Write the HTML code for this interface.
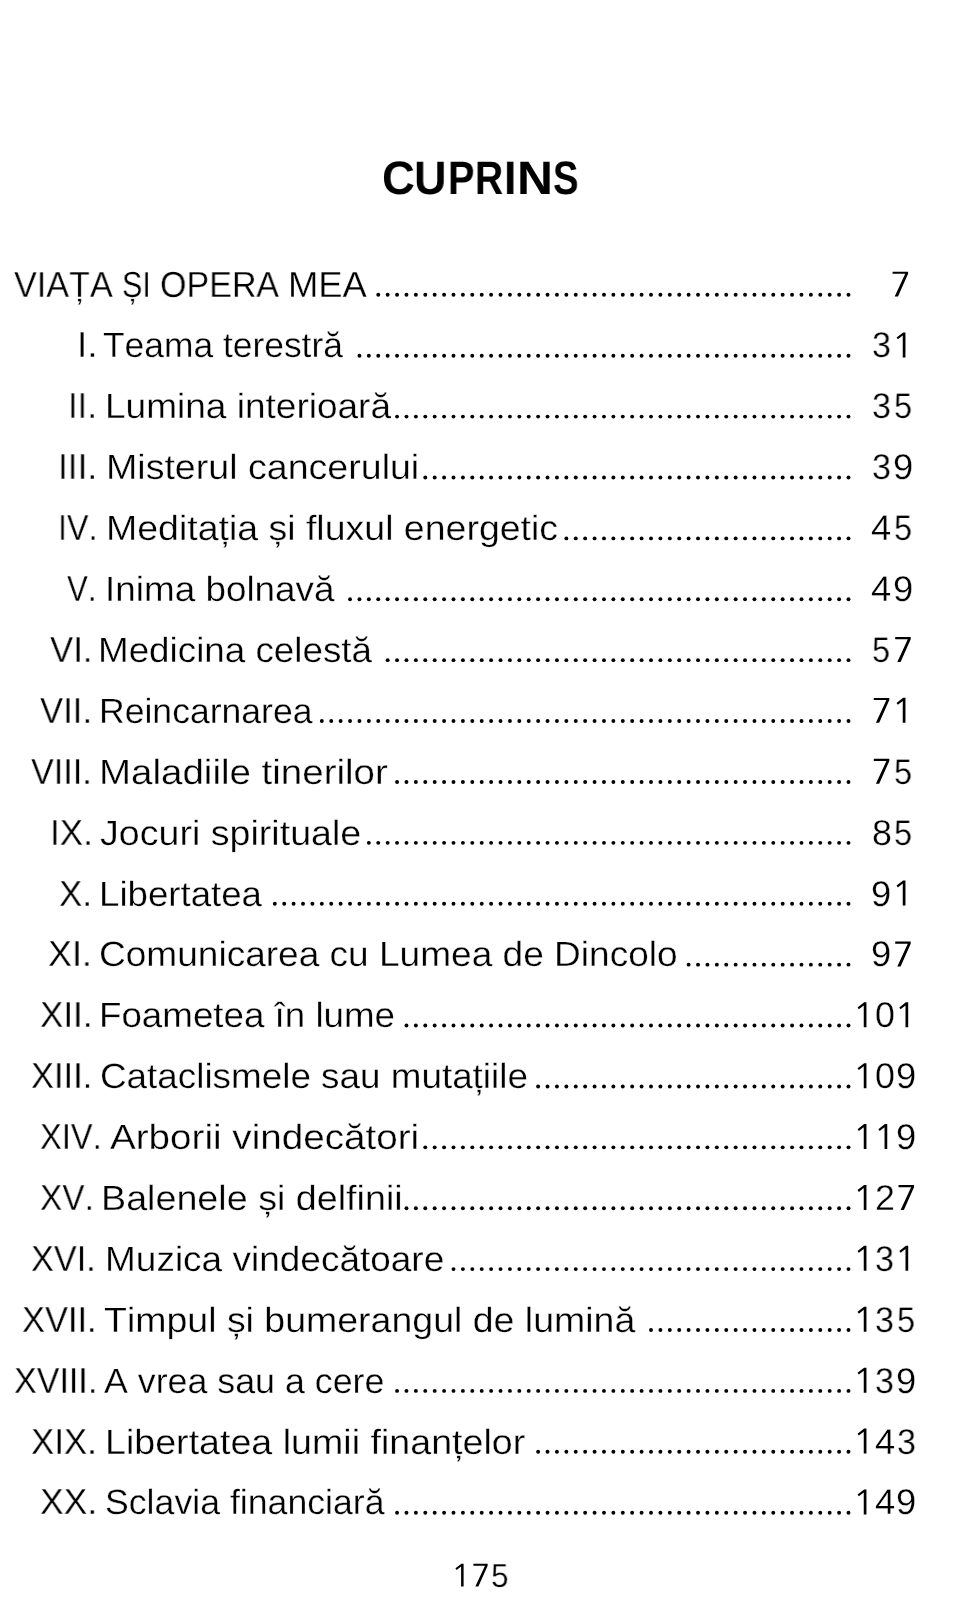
<!DOCTYPE html>
<html><head><meta charset="utf-8"><style>
html,body{margin:0;padding:0;background:#fff;}
body{width:958px;height:1600px;position:relative;overflow:hidden;font-family:"Liberation Sans",sans-serif;color:#000;font-kerning:none;}
.t{position:absolute;white-space:pre;line-height:0;transform-origin:0 0;display:block;height:0;will-change:transform;text-rendering:geometricPrecision;-webkit-text-stroke:0.3px #fff;}
.t.b{font-weight:bold;-webkit-text-stroke:0;}
svg{position:absolute;left:0;top:0;}
</style></head><body>
<svg width="958" height="1600" viewBox="0 0 958 1600" fill="#000">
<polygon points="892.60,271.65 908.10,271.65 908.10,273.85 898.00,296.55 894.70,296.55 905.20,273.85 892.60,273.85"/>
<circle cx="848.50" cy="294.80" r="1.95"/>
<circle cx="839.10" cy="294.80" r="1.95"/>
<circle cx="829.69" cy="294.80" r="1.95"/>
<circle cx="820.28" cy="294.80" r="1.95"/>
<circle cx="810.88" cy="294.80" r="1.95"/>
<circle cx="801.48" cy="294.80" r="1.95"/>
<circle cx="792.07" cy="294.80" r="1.95"/>
<circle cx="782.66" cy="294.80" r="1.95"/>
<circle cx="773.26" cy="294.80" r="1.95"/>
<circle cx="763.86" cy="294.80" r="1.95"/>
<circle cx="754.45" cy="294.80" r="1.95"/>
<circle cx="745.04" cy="294.80" r="1.95"/>
<circle cx="735.64" cy="294.80" r="1.95"/>
<circle cx="726.24" cy="294.80" r="1.95"/>
<circle cx="716.83" cy="294.80" r="1.95"/>
<circle cx="707.42" cy="294.80" r="1.95"/>
<circle cx="698.02" cy="294.80" r="1.95"/>
<circle cx="688.62" cy="294.80" r="1.95"/>
<circle cx="679.21" cy="294.80" r="1.95"/>
<circle cx="669.81" cy="294.80" r="1.95"/>
<circle cx="660.40" cy="294.80" r="1.95"/>
<circle cx="651.00" cy="294.80" r="1.95"/>
<circle cx="641.59" cy="294.80" r="1.95"/>
<circle cx="632.18" cy="294.80" r="1.95"/>
<circle cx="622.78" cy="294.80" r="1.95"/>
<circle cx="613.38" cy="294.80" r="1.95"/>
<circle cx="603.97" cy="294.80" r="1.95"/>
<circle cx="594.57" cy="294.80" r="1.95"/>
<circle cx="585.16" cy="294.80" r="1.95"/>
<circle cx="575.75" cy="294.80" r="1.95"/>
<circle cx="566.35" cy="294.80" r="1.95"/>
<circle cx="556.94" cy="294.80" r="1.95"/>
<circle cx="547.54" cy="294.80" r="1.95"/>
<circle cx="538.13" cy="294.80" r="1.95"/>
<circle cx="528.73" cy="294.80" r="1.95"/>
<circle cx="519.33" cy="294.80" r="1.95"/>
<circle cx="509.92" cy="294.80" r="1.95"/>
<circle cx="500.52" cy="294.80" r="1.95"/>
<circle cx="491.11" cy="294.80" r="1.95"/>
<circle cx="481.71" cy="294.80" r="1.95"/>
<circle cx="472.30" cy="294.80" r="1.95"/>
<circle cx="462.90" cy="294.80" r="1.95"/>
<circle cx="453.49" cy="294.80" r="1.95"/>
<circle cx="444.09" cy="294.80" r="1.95"/>
<circle cx="434.68" cy="294.80" r="1.95"/>
<circle cx="425.28" cy="294.80" r="1.95"/>
<circle cx="415.87" cy="294.80" r="1.95"/>
<circle cx="406.47" cy="294.80" r="1.95"/>
<circle cx="397.06" cy="294.80" r="1.95"/>
<circle cx="387.66" cy="294.80" r="1.95"/>
<circle cx="378.25" cy="294.80" r="1.95"/>
<polygon points="905.45,332.44 905.45,357.44 902.75,357.44 902.75,335.55 897.85,339.34 896.55,337.55 903.15,332.44"/>
<circle cx="848.50" cy="355.69" r="1.95"/>
<circle cx="839.10" cy="355.69" r="1.95"/>
<circle cx="829.69" cy="355.69" r="1.95"/>
<circle cx="820.28" cy="355.69" r="1.95"/>
<circle cx="810.88" cy="355.69" r="1.95"/>
<circle cx="801.48" cy="355.69" r="1.95"/>
<circle cx="792.07" cy="355.69" r="1.95"/>
<circle cx="782.66" cy="355.69" r="1.95"/>
<circle cx="773.26" cy="355.69" r="1.95"/>
<circle cx="763.86" cy="355.69" r="1.95"/>
<circle cx="754.45" cy="355.69" r="1.95"/>
<circle cx="745.04" cy="355.69" r="1.95"/>
<circle cx="735.64" cy="355.69" r="1.95"/>
<circle cx="726.24" cy="355.69" r="1.95"/>
<circle cx="716.83" cy="355.69" r="1.95"/>
<circle cx="707.42" cy="355.69" r="1.95"/>
<circle cx="698.02" cy="355.69" r="1.95"/>
<circle cx="688.62" cy="355.69" r="1.95"/>
<circle cx="679.21" cy="355.69" r="1.95"/>
<circle cx="669.81" cy="355.69" r="1.95"/>
<circle cx="660.40" cy="355.69" r="1.95"/>
<circle cx="651.00" cy="355.69" r="1.95"/>
<circle cx="641.59" cy="355.69" r="1.95"/>
<circle cx="632.18" cy="355.69" r="1.95"/>
<circle cx="622.78" cy="355.69" r="1.95"/>
<circle cx="613.38" cy="355.69" r="1.95"/>
<circle cx="603.97" cy="355.69" r="1.95"/>
<circle cx="594.57" cy="355.69" r="1.95"/>
<circle cx="585.16" cy="355.69" r="1.95"/>
<circle cx="575.75" cy="355.69" r="1.95"/>
<circle cx="566.35" cy="355.69" r="1.95"/>
<circle cx="556.94" cy="355.69" r="1.95"/>
<circle cx="547.54" cy="355.69" r="1.95"/>
<circle cx="538.13" cy="355.69" r="1.95"/>
<circle cx="528.73" cy="355.69" r="1.95"/>
<circle cx="519.33" cy="355.69" r="1.95"/>
<circle cx="509.92" cy="355.69" r="1.95"/>
<circle cx="500.52" cy="355.69" r="1.95"/>
<circle cx="491.11" cy="355.69" r="1.95"/>
<circle cx="481.71" cy="355.69" r="1.95"/>
<circle cx="472.30" cy="355.69" r="1.95"/>
<circle cx="462.90" cy="355.69" r="1.95"/>
<circle cx="453.49" cy="355.69" r="1.95"/>
<circle cx="444.09" cy="355.69" r="1.95"/>
<circle cx="434.68" cy="355.69" r="1.95"/>
<circle cx="425.28" cy="355.69" r="1.95"/>
<circle cx="415.87" cy="355.69" r="1.95"/>
<circle cx="406.47" cy="355.69" r="1.95"/>
<circle cx="397.06" cy="355.69" r="1.95"/>
<circle cx="387.66" cy="355.69" r="1.95"/>
<circle cx="378.25" cy="355.69" r="1.95"/>
<circle cx="368.85" cy="355.69" r="1.95"/>
<circle cx="359.44" cy="355.69" r="1.95"/>
<circle cx="848.50" cy="416.59" r="1.95"/>
<circle cx="839.10" cy="416.59" r="1.95"/>
<circle cx="829.69" cy="416.59" r="1.95"/>
<circle cx="820.28" cy="416.59" r="1.95"/>
<circle cx="810.88" cy="416.59" r="1.95"/>
<circle cx="801.48" cy="416.59" r="1.95"/>
<circle cx="792.07" cy="416.59" r="1.95"/>
<circle cx="782.66" cy="416.59" r="1.95"/>
<circle cx="773.26" cy="416.59" r="1.95"/>
<circle cx="763.86" cy="416.59" r="1.95"/>
<circle cx="754.45" cy="416.59" r="1.95"/>
<circle cx="745.04" cy="416.59" r="1.95"/>
<circle cx="735.64" cy="416.59" r="1.95"/>
<circle cx="726.24" cy="416.59" r="1.95"/>
<circle cx="716.83" cy="416.59" r="1.95"/>
<circle cx="707.42" cy="416.59" r="1.95"/>
<circle cx="698.02" cy="416.59" r="1.95"/>
<circle cx="688.62" cy="416.59" r="1.95"/>
<circle cx="679.21" cy="416.59" r="1.95"/>
<circle cx="669.81" cy="416.59" r="1.95"/>
<circle cx="660.40" cy="416.59" r="1.95"/>
<circle cx="651.00" cy="416.59" r="1.95"/>
<circle cx="641.59" cy="416.59" r="1.95"/>
<circle cx="632.18" cy="416.59" r="1.95"/>
<circle cx="622.78" cy="416.59" r="1.95"/>
<circle cx="613.38" cy="416.59" r="1.95"/>
<circle cx="603.97" cy="416.59" r="1.95"/>
<circle cx="594.57" cy="416.59" r="1.95"/>
<circle cx="585.16" cy="416.59" r="1.95"/>
<circle cx="575.75" cy="416.59" r="1.95"/>
<circle cx="566.35" cy="416.59" r="1.95"/>
<circle cx="556.94" cy="416.59" r="1.95"/>
<circle cx="547.54" cy="416.59" r="1.95"/>
<circle cx="538.13" cy="416.59" r="1.95"/>
<circle cx="528.73" cy="416.59" r="1.95"/>
<circle cx="519.33" cy="416.59" r="1.95"/>
<circle cx="509.92" cy="416.59" r="1.95"/>
<circle cx="500.52" cy="416.59" r="1.95"/>
<circle cx="491.11" cy="416.59" r="1.95"/>
<circle cx="481.71" cy="416.59" r="1.95"/>
<circle cx="472.30" cy="416.59" r="1.95"/>
<circle cx="462.90" cy="416.59" r="1.95"/>
<circle cx="453.49" cy="416.59" r="1.95"/>
<circle cx="444.09" cy="416.59" r="1.95"/>
<circle cx="434.68" cy="416.59" r="1.95"/>
<circle cx="425.28" cy="416.59" r="1.95"/>
<circle cx="415.87" cy="416.59" r="1.95"/>
<circle cx="406.47" cy="416.59" r="1.95"/>
<circle cx="397.06" cy="416.59" r="1.95"/>
<circle cx="848.50" cy="477.49" r="1.95"/>
<circle cx="839.10" cy="477.49" r="1.95"/>
<circle cx="829.69" cy="477.49" r="1.95"/>
<circle cx="820.28" cy="477.49" r="1.95"/>
<circle cx="810.88" cy="477.49" r="1.95"/>
<circle cx="801.48" cy="477.49" r="1.95"/>
<circle cx="792.07" cy="477.49" r="1.95"/>
<circle cx="782.66" cy="477.49" r="1.95"/>
<circle cx="773.26" cy="477.49" r="1.95"/>
<circle cx="763.86" cy="477.49" r="1.95"/>
<circle cx="754.45" cy="477.49" r="1.95"/>
<circle cx="745.04" cy="477.49" r="1.95"/>
<circle cx="735.64" cy="477.49" r="1.95"/>
<circle cx="726.24" cy="477.49" r="1.95"/>
<circle cx="716.83" cy="477.49" r="1.95"/>
<circle cx="707.42" cy="477.49" r="1.95"/>
<circle cx="698.02" cy="477.49" r="1.95"/>
<circle cx="688.62" cy="477.49" r="1.95"/>
<circle cx="679.21" cy="477.49" r="1.95"/>
<circle cx="669.81" cy="477.49" r="1.95"/>
<circle cx="660.40" cy="477.49" r="1.95"/>
<circle cx="651.00" cy="477.49" r="1.95"/>
<circle cx="641.59" cy="477.49" r="1.95"/>
<circle cx="632.18" cy="477.49" r="1.95"/>
<circle cx="622.78" cy="477.49" r="1.95"/>
<circle cx="613.38" cy="477.49" r="1.95"/>
<circle cx="603.97" cy="477.49" r="1.95"/>
<circle cx="594.57" cy="477.49" r="1.95"/>
<circle cx="585.16" cy="477.49" r="1.95"/>
<circle cx="575.75" cy="477.49" r="1.95"/>
<circle cx="566.35" cy="477.49" r="1.95"/>
<circle cx="556.94" cy="477.49" r="1.95"/>
<circle cx="547.54" cy="477.49" r="1.95"/>
<circle cx="538.13" cy="477.49" r="1.95"/>
<circle cx="528.73" cy="477.49" r="1.95"/>
<circle cx="519.33" cy="477.49" r="1.95"/>
<circle cx="509.92" cy="477.49" r="1.95"/>
<circle cx="500.52" cy="477.49" r="1.95"/>
<circle cx="491.11" cy="477.49" r="1.95"/>
<circle cx="481.71" cy="477.49" r="1.95"/>
<circle cx="472.30" cy="477.49" r="1.95"/>
<circle cx="462.90" cy="477.49" r="1.95"/>
<circle cx="453.49" cy="477.49" r="1.95"/>
<circle cx="444.09" cy="477.49" r="1.95"/>
<circle cx="434.68" cy="477.49" r="1.95"/>
<circle cx="425.28" cy="477.49" r="1.95"/>
<circle cx="848.50" cy="538.38" r="1.95"/>
<circle cx="839.10" cy="538.38" r="1.95"/>
<circle cx="829.69" cy="538.38" r="1.95"/>
<circle cx="820.28" cy="538.38" r="1.95"/>
<circle cx="810.88" cy="538.38" r="1.95"/>
<circle cx="801.48" cy="538.38" r="1.95"/>
<circle cx="792.07" cy="538.38" r="1.95"/>
<circle cx="782.66" cy="538.38" r="1.95"/>
<circle cx="773.26" cy="538.38" r="1.95"/>
<circle cx="763.86" cy="538.38" r="1.95"/>
<circle cx="754.45" cy="538.38" r="1.95"/>
<circle cx="745.04" cy="538.38" r="1.95"/>
<circle cx="735.64" cy="538.38" r="1.95"/>
<circle cx="726.24" cy="538.38" r="1.95"/>
<circle cx="716.83" cy="538.38" r="1.95"/>
<circle cx="707.42" cy="538.38" r="1.95"/>
<circle cx="698.02" cy="538.38" r="1.95"/>
<circle cx="688.62" cy="538.38" r="1.95"/>
<circle cx="679.21" cy="538.38" r="1.95"/>
<circle cx="669.81" cy="538.38" r="1.95"/>
<circle cx="660.40" cy="538.38" r="1.95"/>
<circle cx="651.00" cy="538.38" r="1.95"/>
<circle cx="641.59" cy="538.38" r="1.95"/>
<circle cx="632.18" cy="538.38" r="1.95"/>
<circle cx="622.78" cy="538.38" r="1.95"/>
<circle cx="613.38" cy="538.38" r="1.95"/>
<circle cx="603.97" cy="538.38" r="1.95"/>
<circle cx="594.57" cy="538.38" r="1.95"/>
<circle cx="585.16" cy="538.38" r="1.95"/>
<circle cx="575.75" cy="538.38" r="1.95"/>
<circle cx="566.35" cy="538.38" r="1.95"/>
<circle cx="848.50" cy="599.28" r="1.95"/>
<circle cx="839.10" cy="599.28" r="1.95"/>
<circle cx="829.69" cy="599.28" r="1.95"/>
<circle cx="820.28" cy="599.28" r="1.95"/>
<circle cx="810.88" cy="599.28" r="1.95"/>
<circle cx="801.48" cy="599.28" r="1.95"/>
<circle cx="792.07" cy="599.28" r="1.95"/>
<circle cx="782.66" cy="599.28" r="1.95"/>
<circle cx="773.26" cy="599.28" r="1.95"/>
<circle cx="763.86" cy="599.28" r="1.95"/>
<circle cx="754.45" cy="599.28" r="1.95"/>
<circle cx="745.04" cy="599.28" r="1.95"/>
<circle cx="735.64" cy="599.28" r="1.95"/>
<circle cx="726.24" cy="599.28" r="1.95"/>
<circle cx="716.83" cy="599.28" r="1.95"/>
<circle cx="707.42" cy="599.28" r="1.95"/>
<circle cx="698.02" cy="599.28" r="1.95"/>
<circle cx="688.62" cy="599.28" r="1.95"/>
<circle cx="679.21" cy="599.28" r="1.95"/>
<circle cx="669.81" cy="599.28" r="1.95"/>
<circle cx="660.40" cy="599.28" r="1.95"/>
<circle cx="651.00" cy="599.28" r="1.95"/>
<circle cx="641.59" cy="599.28" r="1.95"/>
<circle cx="632.18" cy="599.28" r="1.95"/>
<circle cx="622.78" cy="599.28" r="1.95"/>
<circle cx="613.38" cy="599.28" r="1.95"/>
<circle cx="603.97" cy="599.28" r="1.95"/>
<circle cx="594.57" cy="599.28" r="1.95"/>
<circle cx="585.16" cy="599.28" r="1.95"/>
<circle cx="575.75" cy="599.28" r="1.95"/>
<circle cx="566.35" cy="599.28" r="1.95"/>
<circle cx="556.94" cy="599.28" r="1.95"/>
<circle cx="547.54" cy="599.28" r="1.95"/>
<circle cx="538.13" cy="599.28" r="1.95"/>
<circle cx="528.73" cy="599.28" r="1.95"/>
<circle cx="519.33" cy="599.28" r="1.95"/>
<circle cx="509.92" cy="599.28" r="1.95"/>
<circle cx="500.52" cy="599.28" r="1.95"/>
<circle cx="491.11" cy="599.28" r="1.95"/>
<circle cx="481.71" cy="599.28" r="1.95"/>
<circle cx="472.30" cy="599.28" r="1.95"/>
<circle cx="462.90" cy="599.28" r="1.95"/>
<circle cx="453.49" cy="599.28" r="1.95"/>
<circle cx="444.09" cy="599.28" r="1.95"/>
<circle cx="434.68" cy="599.28" r="1.95"/>
<circle cx="425.28" cy="599.28" r="1.95"/>
<circle cx="415.87" cy="599.28" r="1.95"/>
<circle cx="406.47" cy="599.28" r="1.95"/>
<circle cx="397.06" cy="599.28" r="1.95"/>
<circle cx="387.66" cy="599.28" r="1.95"/>
<circle cx="378.25" cy="599.28" r="1.95"/>
<circle cx="368.85" cy="599.28" r="1.95"/>
<circle cx="359.44" cy="599.28" r="1.95"/>
<circle cx="350.04" cy="599.28" r="1.95"/>
<polygon points="895.20,637.02 910.70,637.02 910.70,639.22 900.60,661.92 897.30,661.92 907.80,639.22 895.20,639.22"/>
<circle cx="848.50" cy="660.17" r="1.95"/>
<circle cx="839.10" cy="660.17" r="1.95"/>
<circle cx="829.69" cy="660.17" r="1.95"/>
<circle cx="820.28" cy="660.17" r="1.95"/>
<circle cx="810.88" cy="660.17" r="1.95"/>
<circle cx="801.48" cy="660.17" r="1.95"/>
<circle cx="792.07" cy="660.17" r="1.95"/>
<circle cx="782.66" cy="660.17" r="1.95"/>
<circle cx="773.26" cy="660.17" r="1.95"/>
<circle cx="763.86" cy="660.17" r="1.95"/>
<circle cx="754.45" cy="660.17" r="1.95"/>
<circle cx="745.04" cy="660.17" r="1.95"/>
<circle cx="735.64" cy="660.17" r="1.95"/>
<circle cx="726.24" cy="660.17" r="1.95"/>
<circle cx="716.83" cy="660.17" r="1.95"/>
<circle cx="707.42" cy="660.17" r="1.95"/>
<circle cx="698.02" cy="660.17" r="1.95"/>
<circle cx="688.62" cy="660.17" r="1.95"/>
<circle cx="679.21" cy="660.17" r="1.95"/>
<circle cx="669.81" cy="660.17" r="1.95"/>
<circle cx="660.40" cy="660.17" r="1.95"/>
<circle cx="651.00" cy="660.17" r="1.95"/>
<circle cx="641.59" cy="660.17" r="1.95"/>
<circle cx="632.18" cy="660.17" r="1.95"/>
<circle cx="622.78" cy="660.17" r="1.95"/>
<circle cx="613.38" cy="660.17" r="1.95"/>
<circle cx="603.97" cy="660.17" r="1.95"/>
<circle cx="594.57" cy="660.17" r="1.95"/>
<circle cx="585.16" cy="660.17" r="1.95"/>
<circle cx="575.75" cy="660.17" r="1.95"/>
<circle cx="566.35" cy="660.17" r="1.95"/>
<circle cx="556.94" cy="660.17" r="1.95"/>
<circle cx="547.54" cy="660.17" r="1.95"/>
<circle cx="538.13" cy="660.17" r="1.95"/>
<circle cx="528.73" cy="660.17" r="1.95"/>
<circle cx="519.33" cy="660.17" r="1.95"/>
<circle cx="509.92" cy="660.17" r="1.95"/>
<circle cx="500.52" cy="660.17" r="1.95"/>
<circle cx="491.11" cy="660.17" r="1.95"/>
<circle cx="481.71" cy="660.17" r="1.95"/>
<circle cx="472.30" cy="660.17" r="1.95"/>
<circle cx="462.90" cy="660.17" r="1.95"/>
<circle cx="453.49" cy="660.17" r="1.95"/>
<circle cx="444.09" cy="660.17" r="1.95"/>
<circle cx="434.68" cy="660.17" r="1.95"/>
<circle cx="425.28" cy="660.17" r="1.95"/>
<circle cx="415.87" cy="660.17" r="1.95"/>
<circle cx="406.47" cy="660.17" r="1.95"/>
<circle cx="397.06" cy="660.17" r="1.95"/>
<circle cx="387.66" cy="660.17" r="1.95"/>
<polygon points="873.80,697.92 889.30,697.92 889.30,700.12 879.20,722.82 875.90,722.82 886.40,700.12 873.80,700.12"/>
<polygon points="905.45,697.82 905.45,722.82 902.75,722.82 902.75,700.92 897.85,704.72 896.55,702.92 903.15,697.82"/>
<circle cx="848.50" cy="721.07" r="1.95"/>
<circle cx="839.10" cy="721.07" r="1.95"/>
<circle cx="829.69" cy="721.07" r="1.95"/>
<circle cx="820.28" cy="721.07" r="1.95"/>
<circle cx="810.88" cy="721.07" r="1.95"/>
<circle cx="801.48" cy="721.07" r="1.95"/>
<circle cx="792.07" cy="721.07" r="1.95"/>
<circle cx="782.66" cy="721.07" r="1.95"/>
<circle cx="773.26" cy="721.07" r="1.95"/>
<circle cx="763.86" cy="721.07" r="1.95"/>
<circle cx="754.45" cy="721.07" r="1.95"/>
<circle cx="745.04" cy="721.07" r="1.95"/>
<circle cx="735.64" cy="721.07" r="1.95"/>
<circle cx="726.24" cy="721.07" r="1.95"/>
<circle cx="716.83" cy="721.07" r="1.95"/>
<circle cx="707.42" cy="721.07" r="1.95"/>
<circle cx="698.02" cy="721.07" r="1.95"/>
<circle cx="688.62" cy="721.07" r="1.95"/>
<circle cx="679.21" cy="721.07" r="1.95"/>
<circle cx="669.81" cy="721.07" r="1.95"/>
<circle cx="660.40" cy="721.07" r="1.95"/>
<circle cx="651.00" cy="721.07" r="1.95"/>
<circle cx="641.59" cy="721.07" r="1.95"/>
<circle cx="632.18" cy="721.07" r="1.95"/>
<circle cx="622.78" cy="721.07" r="1.95"/>
<circle cx="613.38" cy="721.07" r="1.95"/>
<circle cx="603.97" cy="721.07" r="1.95"/>
<circle cx="594.57" cy="721.07" r="1.95"/>
<circle cx="585.16" cy="721.07" r="1.95"/>
<circle cx="575.75" cy="721.07" r="1.95"/>
<circle cx="566.35" cy="721.07" r="1.95"/>
<circle cx="556.94" cy="721.07" r="1.95"/>
<circle cx="547.54" cy="721.07" r="1.95"/>
<circle cx="538.13" cy="721.07" r="1.95"/>
<circle cx="528.73" cy="721.07" r="1.95"/>
<circle cx="519.33" cy="721.07" r="1.95"/>
<circle cx="509.92" cy="721.07" r="1.95"/>
<circle cx="500.52" cy="721.07" r="1.95"/>
<circle cx="491.11" cy="721.07" r="1.95"/>
<circle cx="481.71" cy="721.07" r="1.95"/>
<circle cx="472.30" cy="721.07" r="1.95"/>
<circle cx="462.90" cy="721.07" r="1.95"/>
<circle cx="453.49" cy="721.07" r="1.95"/>
<circle cx="444.09" cy="721.07" r="1.95"/>
<circle cx="434.68" cy="721.07" r="1.95"/>
<circle cx="425.28" cy="721.07" r="1.95"/>
<circle cx="415.87" cy="721.07" r="1.95"/>
<circle cx="406.47" cy="721.07" r="1.95"/>
<circle cx="397.06" cy="721.07" r="1.95"/>
<circle cx="387.66" cy="721.07" r="1.95"/>
<circle cx="378.25" cy="721.07" r="1.95"/>
<circle cx="368.85" cy="721.07" r="1.95"/>
<circle cx="359.44" cy="721.07" r="1.95"/>
<circle cx="350.04" cy="721.07" r="1.95"/>
<circle cx="340.63" cy="721.07" r="1.95"/>
<circle cx="331.23" cy="721.07" r="1.95"/>
<circle cx="321.82" cy="721.07" r="1.95"/>
<polygon points="873.80,758.81 889.30,758.81 889.30,761.01 879.20,783.71 875.90,783.71 886.40,761.01 873.80,761.01"/>
<circle cx="848.50" cy="781.96" r="1.95"/>
<circle cx="839.10" cy="781.96" r="1.95"/>
<circle cx="829.69" cy="781.96" r="1.95"/>
<circle cx="820.28" cy="781.96" r="1.95"/>
<circle cx="810.88" cy="781.96" r="1.95"/>
<circle cx="801.48" cy="781.96" r="1.95"/>
<circle cx="792.07" cy="781.96" r="1.95"/>
<circle cx="782.66" cy="781.96" r="1.95"/>
<circle cx="773.26" cy="781.96" r="1.95"/>
<circle cx="763.86" cy="781.96" r="1.95"/>
<circle cx="754.45" cy="781.96" r="1.95"/>
<circle cx="745.04" cy="781.96" r="1.95"/>
<circle cx="735.64" cy="781.96" r="1.95"/>
<circle cx="726.24" cy="781.96" r="1.95"/>
<circle cx="716.83" cy="781.96" r="1.95"/>
<circle cx="707.42" cy="781.96" r="1.95"/>
<circle cx="698.02" cy="781.96" r="1.95"/>
<circle cx="688.62" cy="781.96" r="1.95"/>
<circle cx="679.21" cy="781.96" r="1.95"/>
<circle cx="669.81" cy="781.96" r="1.95"/>
<circle cx="660.40" cy="781.96" r="1.95"/>
<circle cx="651.00" cy="781.96" r="1.95"/>
<circle cx="641.59" cy="781.96" r="1.95"/>
<circle cx="632.18" cy="781.96" r="1.95"/>
<circle cx="622.78" cy="781.96" r="1.95"/>
<circle cx="613.38" cy="781.96" r="1.95"/>
<circle cx="603.97" cy="781.96" r="1.95"/>
<circle cx="594.57" cy="781.96" r="1.95"/>
<circle cx="585.16" cy="781.96" r="1.95"/>
<circle cx="575.75" cy="781.96" r="1.95"/>
<circle cx="566.35" cy="781.96" r="1.95"/>
<circle cx="556.94" cy="781.96" r="1.95"/>
<circle cx="547.54" cy="781.96" r="1.95"/>
<circle cx="538.13" cy="781.96" r="1.95"/>
<circle cx="528.73" cy="781.96" r="1.95"/>
<circle cx="519.33" cy="781.96" r="1.95"/>
<circle cx="509.92" cy="781.96" r="1.95"/>
<circle cx="500.52" cy="781.96" r="1.95"/>
<circle cx="491.11" cy="781.96" r="1.95"/>
<circle cx="481.71" cy="781.96" r="1.95"/>
<circle cx="472.30" cy="781.96" r="1.95"/>
<circle cx="462.90" cy="781.96" r="1.95"/>
<circle cx="453.49" cy="781.96" r="1.95"/>
<circle cx="444.09" cy="781.96" r="1.95"/>
<circle cx="434.68" cy="781.96" r="1.95"/>
<circle cx="425.28" cy="781.96" r="1.95"/>
<circle cx="415.87" cy="781.96" r="1.95"/>
<circle cx="406.47" cy="781.96" r="1.95"/>
<circle cx="397.06" cy="781.96" r="1.95"/>
<circle cx="848.50" cy="842.86" r="1.95"/>
<circle cx="839.10" cy="842.86" r="1.95"/>
<circle cx="829.69" cy="842.86" r="1.95"/>
<circle cx="820.28" cy="842.86" r="1.95"/>
<circle cx="810.88" cy="842.86" r="1.95"/>
<circle cx="801.48" cy="842.86" r="1.95"/>
<circle cx="792.07" cy="842.86" r="1.95"/>
<circle cx="782.66" cy="842.86" r="1.95"/>
<circle cx="773.26" cy="842.86" r="1.95"/>
<circle cx="763.86" cy="842.86" r="1.95"/>
<circle cx="754.45" cy="842.86" r="1.95"/>
<circle cx="745.04" cy="842.86" r="1.95"/>
<circle cx="735.64" cy="842.86" r="1.95"/>
<circle cx="726.24" cy="842.86" r="1.95"/>
<circle cx="716.83" cy="842.86" r="1.95"/>
<circle cx="707.42" cy="842.86" r="1.95"/>
<circle cx="698.02" cy="842.86" r="1.95"/>
<circle cx="688.62" cy="842.86" r="1.95"/>
<circle cx="679.21" cy="842.86" r="1.95"/>
<circle cx="669.81" cy="842.86" r="1.95"/>
<circle cx="660.40" cy="842.86" r="1.95"/>
<circle cx="651.00" cy="842.86" r="1.95"/>
<circle cx="641.59" cy="842.86" r="1.95"/>
<circle cx="632.18" cy="842.86" r="1.95"/>
<circle cx="622.78" cy="842.86" r="1.95"/>
<circle cx="613.38" cy="842.86" r="1.95"/>
<circle cx="603.97" cy="842.86" r="1.95"/>
<circle cx="594.57" cy="842.86" r="1.95"/>
<circle cx="585.16" cy="842.86" r="1.95"/>
<circle cx="575.75" cy="842.86" r="1.95"/>
<circle cx="566.35" cy="842.86" r="1.95"/>
<circle cx="556.94" cy="842.86" r="1.95"/>
<circle cx="547.54" cy="842.86" r="1.95"/>
<circle cx="538.13" cy="842.86" r="1.95"/>
<circle cx="528.73" cy="842.86" r="1.95"/>
<circle cx="519.33" cy="842.86" r="1.95"/>
<circle cx="509.92" cy="842.86" r="1.95"/>
<circle cx="500.52" cy="842.86" r="1.95"/>
<circle cx="491.11" cy="842.86" r="1.95"/>
<circle cx="481.71" cy="842.86" r="1.95"/>
<circle cx="472.30" cy="842.86" r="1.95"/>
<circle cx="462.90" cy="842.86" r="1.95"/>
<circle cx="453.49" cy="842.86" r="1.95"/>
<circle cx="444.09" cy="842.86" r="1.95"/>
<circle cx="434.68" cy="842.86" r="1.95"/>
<circle cx="425.28" cy="842.86" r="1.95"/>
<circle cx="415.87" cy="842.86" r="1.95"/>
<circle cx="406.47" cy="842.86" r="1.95"/>
<circle cx="397.06" cy="842.86" r="1.95"/>
<circle cx="387.66" cy="842.86" r="1.95"/>
<circle cx="378.25" cy="842.86" r="1.95"/>
<circle cx="368.85" cy="842.86" r="1.95"/>
<polygon points="905.45,880.50 905.45,905.50 902.75,905.50 902.75,883.60 897.85,887.40 896.55,885.60 903.15,880.50"/>
<circle cx="848.50" cy="903.75" r="1.95"/>
<circle cx="839.10" cy="903.75" r="1.95"/>
<circle cx="829.69" cy="903.75" r="1.95"/>
<circle cx="820.28" cy="903.75" r="1.95"/>
<circle cx="810.88" cy="903.75" r="1.95"/>
<circle cx="801.48" cy="903.75" r="1.95"/>
<circle cx="792.07" cy="903.75" r="1.95"/>
<circle cx="782.66" cy="903.75" r="1.95"/>
<circle cx="773.26" cy="903.75" r="1.95"/>
<circle cx="763.86" cy="903.75" r="1.95"/>
<circle cx="754.45" cy="903.75" r="1.95"/>
<circle cx="745.04" cy="903.75" r="1.95"/>
<circle cx="735.64" cy="903.75" r="1.95"/>
<circle cx="726.24" cy="903.75" r="1.95"/>
<circle cx="716.83" cy="903.75" r="1.95"/>
<circle cx="707.42" cy="903.75" r="1.95"/>
<circle cx="698.02" cy="903.75" r="1.95"/>
<circle cx="688.62" cy="903.75" r="1.95"/>
<circle cx="679.21" cy="903.75" r="1.95"/>
<circle cx="669.81" cy="903.75" r="1.95"/>
<circle cx="660.40" cy="903.75" r="1.95"/>
<circle cx="651.00" cy="903.75" r="1.95"/>
<circle cx="641.59" cy="903.75" r="1.95"/>
<circle cx="632.18" cy="903.75" r="1.95"/>
<circle cx="622.78" cy="903.75" r="1.95"/>
<circle cx="613.38" cy="903.75" r="1.95"/>
<circle cx="603.97" cy="903.75" r="1.95"/>
<circle cx="594.57" cy="903.75" r="1.95"/>
<circle cx="585.16" cy="903.75" r="1.95"/>
<circle cx="575.75" cy="903.75" r="1.95"/>
<circle cx="566.35" cy="903.75" r="1.95"/>
<circle cx="556.94" cy="903.75" r="1.95"/>
<circle cx="547.54" cy="903.75" r="1.95"/>
<circle cx="538.13" cy="903.75" r="1.95"/>
<circle cx="528.73" cy="903.75" r="1.95"/>
<circle cx="519.33" cy="903.75" r="1.95"/>
<circle cx="509.92" cy="903.75" r="1.95"/>
<circle cx="500.52" cy="903.75" r="1.95"/>
<circle cx="491.11" cy="903.75" r="1.95"/>
<circle cx="481.71" cy="903.75" r="1.95"/>
<circle cx="472.30" cy="903.75" r="1.95"/>
<circle cx="462.90" cy="903.75" r="1.95"/>
<circle cx="453.49" cy="903.75" r="1.95"/>
<circle cx="444.09" cy="903.75" r="1.95"/>
<circle cx="434.68" cy="903.75" r="1.95"/>
<circle cx="425.28" cy="903.75" r="1.95"/>
<circle cx="415.87" cy="903.75" r="1.95"/>
<circle cx="406.47" cy="903.75" r="1.95"/>
<circle cx="397.06" cy="903.75" r="1.95"/>
<circle cx="387.66" cy="903.75" r="1.95"/>
<circle cx="378.25" cy="903.75" r="1.95"/>
<circle cx="368.85" cy="903.75" r="1.95"/>
<circle cx="359.44" cy="903.75" r="1.95"/>
<circle cx="350.04" cy="903.75" r="1.95"/>
<circle cx="340.63" cy="903.75" r="1.95"/>
<circle cx="331.23" cy="903.75" r="1.95"/>
<circle cx="321.82" cy="903.75" r="1.95"/>
<circle cx="312.42" cy="903.75" r="1.95"/>
<circle cx="303.01" cy="903.75" r="1.95"/>
<circle cx="293.61" cy="903.75" r="1.95"/>
<circle cx="284.20" cy="903.75" r="1.95"/>
<circle cx="274.80" cy="903.75" r="1.95"/>
<polygon points="895.20,941.50 910.70,941.50 910.70,943.70 900.60,966.39 897.30,966.39 907.80,943.70 895.20,943.70"/>
<circle cx="848.50" cy="964.64" r="1.95"/>
<circle cx="839.10" cy="964.64" r="1.95"/>
<circle cx="829.69" cy="964.64" r="1.95"/>
<circle cx="820.28" cy="964.64" r="1.95"/>
<circle cx="810.88" cy="964.64" r="1.95"/>
<circle cx="801.48" cy="964.64" r="1.95"/>
<circle cx="792.07" cy="964.64" r="1.95"/>
<circle cx="782.66" cy="964.64" r="1.95"/>
<circle cx="773.26" cy="964.64" r="1.95"/>
<circle cx="763.86" cy="964.64" r="1.95"/>
<circle cx="754.45" cy="964.64" r="1.95"/>
<circle cx="745.04" cy="964.64" r="1.95"/>
<circle cx="735.64" cy="964.64" r="1.95"/>
<circle cx="726.24" cy="964.64" r="1.95"/>
<circle cx="716.83" cy="964.64" r="1.95"/>
<circle cx="707.42" cy="964.64" r="1.95"/>
<circle cx="698.02" cy="964.64" r="1.95"/>
<circle cx="688.62" cy="964.64" r="1.95"/>
<polygon points="866.45,1002.29 866.45,1027.29 863.75,1027.29 863.75,1005.39 858.85,1009.19 857.55,1007.39 864.15,1002.29"/>
<polygon points="908.20,1002.29 908.20,1027.29 905.50,1027.29 905.50,1005.39 900.60,1009.19 899.30,1007.39 905.90,1002.29"/>
<circle cx="848.50" cy="1025.54" r="1.95"/>
<circle cx="839.10" cy="1025.54" r="1.95"/>
<circle cx="829.69" cy="1025.54" r="1.95"/>
<circle cx="820.28" cy="1025.54" r="1.95"/>
<circle cx="810.88" cy="1025.54" r="1.95"/>
<circle cx="801.48" cy="1025.54" r="1.95"/>
<circle cx="792.07" cy="1025.54" r="1.95"/>
<circle cx="782.66" cy="1025.54" r="1.95"/>
<circle cx="773.26" cy="1025.54" r="1.95"/>
<circle cx="763.86" cy="1025.54" r="1.95"/>
<circle cx="754.45" cy="1025.54" r="1.95"/>
<circle cx="745.04" cy="1025.54" r="1.95"/>
<circle cx="735.64" cy="1025.54" r="1.95"/>
<circle cx="726.24" cy="1025.54" r="1.95"/>
<circle cx="716.83" cy="1025.54" r="1.95"/>
<circle cx="707.42" cy="1025.54" r="1.95"/>
<circle cx="698.02" cy="1025.54" r="1.95"/>
<circle cx="688.62" cy="1025.54" r="1.95"/>
<circle cx="679.21" cy="1025.54" r="1.95"/>
<circle cx="669.81" cy="1025.54" r="1.95"/>
<circle cx="660.40" cy="1025.54" r="1.95"/>
<circle cx="651.00" cy="1025.54" r="1.95"/>
<circle cx="641.59" cy="1025.54" r="1.95"/>
<circle cx="632.18" cy="1025.54" r="1.95"/>
<circle cx="622.78" cy="1025.54" r="1.95"/>
<circle cx="613.38" cy="1025.54" r="1.95"/>
<circle cx="603.97" cy="1025.54" r="1.95"/>
<circle cx="594.57" cy="1025.54" r="1.95"/>
<circle cx="585.16" cy="1025.54" r="1.95"/>
<circle cx="575.75" cy="1025.54" r="1.95"/>
<circle cx="566.35" cy="1025.54" r="1.95"/>
<circle cx="556.94" cy="1025.54" r="1.95"/>
<circle cx="547.54" cy="1025.54" r="1.95"/>
<circle cx="538.13" cy="1025.54" r="1.95"/>
<circle cx="528.73" cy="1025.54" r="1.95"/>
<circle cx="519.33" cy="1025.54" r="1.95"/>
<circle cx="509.92" cy="1025.54" r="1.95"/>
<circle cx="500.52" cy="1025.54" r="1.95"/>
<circle cx="491.11" cy="1025.54" r="1.95"/>
<circle cx="481.71" cy="1025.54" r="1.95"/>
<circle cx="472.30" cy="1025.54" r="1.95"/>
<circle cx="462.90" cy="1025.54" r="1.95"/>
<circle cx="453.49" cy="1025.54" r="1.95"/>
<circle cx="444.09" cy="1025.54" r="1.95"/>
<circle cx="434.68" cy="1025.54" r="1.95"/>
<circle cx="425.28" cy="1025.54" r="1.95"/>
<circle cx="415.87" cy="1025.54" r="1.95"/>
<circle cx="406.47" cy="1025.54" r="1.95"/>
<polygon points="866.45,1063.18 866.45,1088.18 863.75,1088.18 863.75,1066.28 858.85,1070.09 857.55,1068.28 864.15,1063.18"/>
<circle cx="848.50" cy="1086.43" r="1.95"/>
<circle cx="839.10" cy="1086.43" r="1.95"/>
<circle cx="829.69" cy="1086.43" r="1.95"/>
<circle cx="820.28" cy="1086.43" r="1.95"/>
<circle cx="810.88" cy="1086.43" r="1.95"/>
<circle cx="801.48" cy="1086.43" r="1.95"/>
<circle cx="792.07" cy="1086.43" r="1.95"/>
<circle cx="782.66" cy="1086.43" r="1.95"/>
<circle cx="773.26" cy="1086.43" r="1.95"/>
<circle cx="763.86" cy="1086.43" r="1.95"/>
<circle cx="754.45" cy="1086.43" r="1.95"/>
<circle cx="745.04" cy="1086.43" r="1.95"/>
<circle cx="735.64" cy="1086.43" r="1.95"/>
<circle cx="726.24" cy="1086.43" r="1.95"/>
<circle cx="716.83" cy="1086.43" r="1.95"/>
<circle cx="707.42" cy="1086.43" r="1.95"/>
<circle cx="698.02" cy="1086.43" r="1.95"/>
<circle cx="688.62" cy="1086.43" r="1.95"/>
<circle cx="679.21" cy="1086.43" r="1.95"/>
<circle cx="669.81" cy="1086.43" r="1.95"/>
<circle cx="660.40" cy="1086.43" r="1.95"/>
<circle cx="651.00" cy="1086.43" r="1.95"/>
<circle cx="641.59" cy="1086.43" r="1.95"/>
<circle cx="632.18" cy="1086.43" r="1.95"/>
<circle cx="622.78" cy="1086.43" r="1.95"/>
<circle cx="613.38" cy="1086.43" r="1.95"/>
<circle cx="603.97" cy="1086.43" r="1.95"/>
<circle cx="594.57" cy="1086.43" r="1.95"/>
<circle cx="585.16" cy="1086.43" r="1.95"/>
<circle cx="575.75" cy="1086.43" r="1.95"/>
<circle cx="566.35" cy="1086.43" r="1.95"/>
<circle cx="556.94" cy="1086.43" r="1.95"/>
<circle cx="547.54" cy="1086.43" r="1.95"/>
<circle cx="538.13" cy="1086.43" r="1.95"/>
<polygon points="866.45,1124.08 866.45,1149.08 863.75,1149.08 863.75,1127.18 858.85,1130.98 857.55,1129.18 864.15,1124.08"/>
<polygon points="887.25,1124.08 887.25,1149.08 884.55,1149.08 884.55,1127.18 879.65,1130.98 878.35,1129.18 884.95,1124.08"/>
<circle cx="848.50" cy="1147.33" r="1.95"/>
<circle cx="839.10" cy="1147.33" r="1.95"/>
<circle cx="829.69" cy="1147.33" r="1.95"/>
<circle cx="820.28" cy="1147.33" r="1.95"/>
<circle cx="810.88" cy="1147.33" r="1.95"/>
<circle cx="801.48" cy="1147.33" r="1.95"/>
<circle cx="792.07" cy="1147.33" r="1.95"/>
<circle cx="782.66" cy="1147.33" r="1.95"/>
<circle cx="773.26" cy="1147.33" r="1.95"/>
<circle cx="763.86" cy="1147.33" r="1.95"/>
<circle cx="754.45" cy="1147.33" r="1.95"/>
<circle cx="745.04" cy="1147.33" r="1.95"/>
<circle cx="735.64" cy="1147.33" r="1.95"/>
<circle cx="726.24" cy="1147.33" r="1.95"/>
<circle cx="716.83" cy="1147.33" r="1.95"/>
<circle cx="707.42" cy="1147.33" r="1.95"/>
<circle cx="698.02" cy="1147.33" r="1.95"/>
<circle cx="688.62" cy="1147.33" r="1.95"/>
<circle cx="679.21" cy="1147.33" r="1.95"/>
<circle cx="669.81" cy="1147.33" r="1.95"/>
<circle cx="660.40" cy="1147.33" r="1.95"/>
<circle cx="651.00" cy="1147.33" r="1.95"/>
<circle cx="641.59" cy="1147.33" r="1.95"/>
<circle cx="632.18" cy="1147.33" r="1.95"/>
<circle cx="622.78" cy="1147.33" r="1.95"/>
<circle cx="613.38" cy="1147.33" r="1.95"/>
<circle cx="603.97" cy="1147.33" r="1.95"/>
<circle cx="594.57" cy="1147.33" r="1.95"/>
<circle cx="585.16" cy="1147.33" r="1.95"/>
<circle cx="575.75" cy="1147.33" r="1.95"/>
<circle cx="566.35" cy="1147.33" r="1.95"/>
<circle cx="556.94" cy="1147.33" r="1.95"/>
<circle cx="547.54" cy="1147.33" r="1.95"/>
<circle cx="538.13" cy="1147.33" r="1.95"/>
<circle cx="528.73" cy="1147.33" r="1.95"/>
<circle cx="519.33" cy="1147.33" r="1.95"/>
<circle cx="509.92" cy="1147.33" r="1.95"/>
<circle cx="500.52" cy="1147.33" r="1.95"/>
<circle cx="491.11" cy="1147.33" r="1.95"/>
<circle cx="481.71" cy="1147.33" r="1.95"/>
<circle cx="472.30" cy="1147.33" r="1.95"/>
<circle cx="462.90" cy="1147.33" r="1.95"/>
<circle cx="453.49" cy="1147.33" r="1.95"/>
<circle cx="444.09" cy="1147.33" r="1.95"/>
<circle cx="434.68" cy="1147.33" r="1.95"/>
<circle cx="425.28" cy="1147.33" r="1.95"/>
<polygon points="866.45,1184.98 866.45,1209.98 863.75,1209.98 863.75,1188.08 858.85,1191.88 857.55,1190.08 864.15,1184.98"/>
<polygon points="898.50,1185.08 914.00,1185.08 914.00,1187.28 903.90,1209.98 900.60,1209.98 911.10,1187.28 898.50,1187.28"/>
<circle cx="848.50" cy="1208.23" r="1.95"/>
<circle cx="839.10" cy="1208.23" r="1.95"/>
<circle cx="829.69" cy="1208.23" r="1.95"/>
<circle cx="820.28" cy="1208.23" r="1.95"/>
<circle cx="810.88" cy="1208.23" r="1.95"/>
<circle cx="801.48" cy="1208.23" r="1.95"/>
<circle cx="792.07" cy="1208.23" r="1.95"/>
<circle cx="782.66" cy="1208.23" r="1.95"/>
<circle cx="773.26" cy="1208.23" r="1.95"/>
<circle cx="763.86" cy="1208.23" r="1.95"/>
<circle cx="754.45" cy="1208.23" r="1.95"/>
<circle cx="745.04" cy="1208.23" r="1.95"/>
<circle cx="735.64" cy="1208.23" r="1.95"/>
<circle cx="726.24" cy="1208.23" r="1.95"/>
<circle cx="716.83" cy="1208.23" r="1.95"/>
<circle cx="707.42" cy="1208.23" r="1.95"/>
<circle cx="698.02" cy="1208.23" r="1.95"/>
<circle cx="688.62" cy="1208.23" r="1.95"/>
<circle cx="679.21" cy="1208.23" r="1.95"/>
<circle cx="669.81" cy="1208.23" r="1.95"/>
<circle cx="660.40" cy="1208.23" r="1.95"/>
<circle cx="651.00" cy="1208.23" r="1.95"/>
<circle cx="641.59" cy="1208.23" r="1.95"/>
<circle cx="632.18" cy="1208.23" r="1.95"/>
<circle cx="622.78" cy="1208.23" r="1.95"/>
<circle cx="613.38" cy="1208.23" r="1.95"/>
<circle cx="603.97" cy="1208.23" r="1.95"/>
<circle cx="594.57" cy="1208.23" r="1.95"/>
<circle cx="585.16" cy="1208.23" r="1.95"/>
<circle cx="575.75" cy="1208.23" r="1.95"/>
<circle cx="566.35" cy="1208.23" r="1.95"/>
<circle cx="556.94" cy="1208.23" r="1.95"/>
<circle cx="547.54" cy="1208.23" r="1.95"/>
<circle cx="538.13" cy="1208.23" r="1.95"/>
<circle cx="528.73" cy="1208.23" r="1.95"/>
<circle cx="519.33" cy="1208.23" r="1.95"/>
<circle cx="509.92" cy="1208.23" r="1.95"/>
<circle cx="500.52" cy="1208.23" r="1.95"/>
<circle cx="491.11" cy="1208.23" r="1.95"/>
<circle cx="481.71" cy="1208.23" r="1.95"/>
<circle cx="472.30" cy="1208.23" r="1.95"/>
<circle cx="462.90" cy="1208.23" r="1.95"/>
<circle cx="453.49" cy="1208.23" r="1.95"/>
<circle cx="444.09" cy="1208.23" r="1.95"/>
<circle cx="434.68" cy="1208.23" r="1.95"/>
<circle cx="425.28" cy="1208.23" r="1.95"/>
<circle cx="415.87" cy="1208.23" r="1.95"/>
<circle cx="406.47" cy="1208.23" r="1.95"/>
<polygon points="866.45,1245.87 866.45,1270.87 863.75,1270.87 863.75,1248.97 858.85,1252.77 857.55,1250.97 864.15,1245.87"/>
<polygon points="908.20,1245.87 908.20,1270.87 905.50,1270.87 905.50,1248.97 900.60,1252.77 899.30,1250.97 905.90,1245.87"/>
<circle cx="848.50" cy="1269.12" r="1.95"/>
<circle cx="839.10" cy="1269.12" r="1.95"/>
<circle cx="829.69" cy="1269.12" r="1.95"/>
<circle cx="820.28" cy="1269.12" r="1.95"/>
<circle cx="810.88" cy="1269.12" r="1.95"/>
<circle cx="801.48" cy="1269.12" r="1.95"/>
<circle cx="792.07" cy="1269.12" r="1.95"/>
<circle cx="782.66" cy="1269.12" r="1.95"/>
<circle cx="773.26" cy="1269.12" r="1.95"/>
<circle cx="763.86" cy="1269.12" r="1.95"/>
<circle cx="754.45" cy="1269.12" r="1.95"/>
<circle cx="745.04" cy="1269.12" r="1.95"/>
<circle cx="735.64" cy="1269.12" r="1.95"/>
<circle cx="726.24" cy="1269.12" r="1.95"/>
<circle cx="716.83" cy="1269.12" r="1.95"/>
<circle cx="707.42" cy="1269.12" r="1.95"/>
<circle cx="698.02" cy="1269.12" r="1.95"/>
<circle cx="688.62" cy="1269.12" r="1.95"/>
<circle cx="679.21" cy="1269.12" r="1.95"/>
<circle cx="669.81" cy="1269.12" r="1.95"/>
<circle cx="660.40" cy="1269.12" r="1.95"/>
<circle cx="651.00" cy="1269.12" r="1.95"/>
<circle cx="641.59" cy="1269.12" r="1.95"/>
<circle cx="632.18" cy="1269.12" r="1.95"/>
<circle cx="622.78" cy="1269.12" r="1.95"/>
<circle cx="613.38" cy="1269.12" r="1.95"/>
<circle cx="603.97" cy="1269.12" r="1.95"/>
<circle cx="594.57" cy="1269.12" r="1.95"/>
<circle cx="585.16" cy="1269.12" r="1.95"/>
<circle cx="575.75" cy="1269.12" r="1.95"/>
<circle cx="566.35" cy="1269.12" r="1.95"/>
<circle cx="556.94" cy="1269.12" r="1.95"/>
<circle cx="547.54" cy="1269.12" r="1.95"/>
<circle cx="538.13" cy="1269.12" r="1.95"/>
<circle cx="528.73" cy="1269.12" r="1.95"/>
<circle cx="519.33" cy="1269.12" r="1.95"/>
<circle cx="509.92" cy="1269.12" r="1.95"/>
<circle cx="500.52" cy="1269.12" r="1.95"/>
<circle cx="491.11" cy="1269.12" r="1.95"/>
<circle cx="481.71" cy="1269.12" r="1.95"/>
<circle cx="472.30" cy="1269.12" r="1.95"/>
<circle cx="462.90" cy="1269.12" r="1.95"/>
<circle cx="453.49" cy="1269.12" r="1.95"/>
<polygon points="866.45,1306.77 866.45,1331.77 863.75,1331.77 863.75,1309.87 858.85,1313.67 857.55,1311.87 864.15,1306.77"/>
<circle cx="848.50" cy="1330.02" r="1.95"/>
<circle cx="839.10" cy="1330.02" r="1.95"/>
<circle cx="829.69" cy="1330.02" r="1.95"/>
<circle cx="820.28" cy="1330.02" r="1.95"/>
<circle cx="810.88" cy="1330.02" r="1.95"/>
<circle cx="801.48" cy="1330.02" r="1.95"/>
<circle cx="792.07" cy="1330.02" r="1.95"/>
<circle cx="782.66" cy="1330.02" r="1.95"/>
<circle cx="773.26" cy="1330.02" r="1.95"/>
<circle cx="763.86" cy="1330.02" r="1.95"/>
<circle cx="754.45" cy="1330.02" r="1.95"/>
<circle cx="745.04" cy="1330.02" r="1.95"/>
<circle cx="735.64" cy="1330.02" r="1.95"/>
<circle cx="726.24" cy="1330.02" r="1.95"/>
<circle cx="716.83" cy="1330.02" r="1.95"/>
<circle cx="707.42" cy="1330.02" r="1.95"/>
<circle cx="698.02" cy="1330.02" r="1.95"/>
<circle cx="688.62" cy="1330.02" r="1.95"/>
<circle cx="679.21" cy="1330.02" r="1.95"/>
<circle cx="669.81" cy="1330.02" r="1.95"/>
<circle cx="660.40" cy="1330.02" r="1.95"/>
<circle cx="651.00" cy="1330.02" r="1.95"/>
<polygon points="866.45,1367.66 866.45,1392.66 863.75,1392.66 863.75,1370.76 858.85,1374.56 857.55,1372.76 864.15,1367.66"/>
<circle cx="848.50" cy="1390.91" r="1.95"/>
<circle cx="839.10" cy="1390.91" r="1.95"/>
<circle cx="829.69" cy="1390.91" r="1.95"/>
<circle cx="820.28" cy="1390.91" r="1.95"/>
<circle cx="810.88" cy="1390.91" r="1.95"/>
<circle cx="801.48" cy="1390.91" r="1.95"/>
<circle cx="792.07" cy="1390.91" r="1.95"/>
<circle cx="782.66" cy="1390.91" r="1.95"/>
<circle cx="773.26" cy="1390.91" r="1.95"/>
<circle cx="763.86" cy="1390.91" r="1.95"/>
<circle cx="754.45" cy="1390.91" r="1.95"/>
<circle cx="745.04" cy="1390.91" r="1.95"/>
<circle cx="735.64" cy="1390.91" r="1.95"/>
<circle cx="726.24" cy="1390.91" r="1.95"/>
<circle cx="716.83" cy="1390.91" r="1.95"/>
<circle cx="707.42" cy="1390.91" r="1.95"/>
<circle cx="698.02" cy="1390.91" r="1.95"/>
<circle cx="688.62" cy="1390.91" r="1.95"/>
<circle cx="679.21" cy="1390.91" r="1.95"/>
<circle cx="669.81" cy="1390.91" r="1.95"/>
<circle cx="660.40" cy="1390.91" r="1.95"/>
<circle cx="651.00" cy="1390.91" r="1.95"/>
<circle cx="641.59" cy="1390.91" r="1.95"/>
<circle cx="632.18" cy="1390.91" r="1.95"/>
<circle cx="622.78" cy="1390.91" r="1.95"/>
<circle cx="613.38" cy="1390.91" r="1.95"/>
<circle cx="603.97" cy="1390.91" r="1.95"/>
<circle cx="594.57" cy="1390.91" r="1.95"/>
<circle cx="585.16" cy="1390.91" r="1.95"/>
<circle cx="575.75" cy="1390.91" r="1.95"/>
<circle cx="566.35" cy="1390.91" r="1.95"/>
<circle cx="556.94" cy="1390.91" r="1.95"/>
<circle cx="547.54" cy="1390.91" r="1.95"/>
<circle cx="538.13" cy="1390.91" r="1.95"/>
<circle cx="528.73" cy="1390.91" r="1.95"/>
<circle cx="519.33" cy="1390.91" r="1.95"/>
<circle cx="509.92" cy="1390.91" r="1.95"/>
<circle cx="500.52" cy="1390.91" r="1.95"/>
<circle cx="491.11" cy="1390.91" r="1.95"/>
<circle cx="481.71" cy="1390.91" r="1.95"/>
<circle cx="472.30" cy="1390.91" r="1.95"/>
<circle cx="462.90" cy="1390.91" r="1.95"/>
<circle cx="453.49" cy="1390.91" r="1.95"/>
<circle cx="444.09" cy="1390.91" r="1.95"/>
<circle cx="434.68" cy="1390.91" r="1.95"/>
<circle cx="425.28" cy="1390.91" r="1.95"/>
<circle cx="415.87" cy="1390.91" r="1.95"/>
<circle cx="406.47" cy="1390.91" r="1.95"/>
<circle cx="397.06" cy="1390.91" r="1.95"/>
<polygon points="866.45,1428.56 866.45,1453.56 863.75,1453.56 863.75,1431.65 858.85,1435.46 857.55,1433.65 864.15,1428.56"/>
<circle cx="848.50" cy="1451.81" r="1.95"/>
<circle cx="839.10" cy="1451.81" r="1.95"/>
<circle cx="829.69" cy="1451.81" r="1.95"/>
<circle cx="820.28" cy="1451.81" r="1.95"/>
<circle cx="810.88" cy="1451.81" r="1.95"/>
<circle cx="801.48" cy="1451.81" r="1.95"/>
<circle cx="792.07" cy="1451.81" r="1.95"/>
<circle cx="782.66" cy="1451.81" r="1.95"/>
<circle cx="773.26" cy="1451.81" r="1.95"/>
<circle cx="763.86" cy="1451.81" r="1.95"/>
<circle cx="754.45" cy="1451.81" r="1.95"/>
<circle cx="745.04" cy="1451.81" r="1.95"/>
<circle cx="735.64" cy="1451.81" r="1.95"/>
<circle cx="726.24" cy="1451.81" r="1.95"/>
<circle cx="716.83" cy="1451.81" r="1.95"/>
<circle cx="707.42" cy="1451.81" r="1.95"/>
<circle cx="698.02" cy="1451.81" r="1.95"/>
<circle cx="688.62" cy="1451.81" r="1.95"/>
<circle cx="679.21" cy="1451.81" r="1.95"/>
<circle cx="669.81" cy="1451.81" r="1.95"/>
<circle cx="660.40" cy="1451.81" r="1.95"/>
<circle cx="651.00" cy="1451.81" r="1.95"/>
<circle cx="641.59" cy="1451.81" r="1.95"/>
<circle cx="632.18" cy="1451.81" r="1.95"/>
<circle cx="622.78" cy="1451.81" r="1.95"/>
<circle cx="613.38" cy="1451.81" r="1.95"/>
<circle cx="603.97" cy="1451.81" r="1.95"/>
<circle cx="594.57" cy="1451.81" r="1.95"/>
<circle cx="585.16" cy="1451.81" r="1.95"/>
<circle cx="575.75" cy="1451.81" r="1.95"/>
<circle cx="566.35" cy="1451.81" r="1.95"/>
<circle cx="556.94" cy="1451.81" r="1.95"/>
<circle cx="547.54" cy="1451.81" r="1.95"/>
<circle cx="538.13" cy="1451.81" r="1.95"/>
<polygon points="866.45,1489.45 866.45,1514.45 863.75,1514.45 863.75,1492.55 858.85,1496.35 857.55,1494.55 864.15,1489.45"/>
<circle cx="848.50" cy="1512.70" r="1.95"/>
<circle cx="839.10" cy="1512.70" r="1.95"/>
<circle cx="829.69" cy="1512.70" r="1.95"/>
<circle cx="820.28" cy="1512.70" r="1.95"/>
<circle cx="810.88" cy="1512.70" r="1.95"/>
<circle cx="801.48" cy="1512.70" r="1.95"/>
<circle cx="792.07" cy="1512.70" r="1.95"/>
<circle cx="782.66" cy="1512.70" r="1.95"/>
<circle cx="773.26" cy="1512.70" r="1.95"/>
<circle cx="763.86" cy="1512.70" r="1.95"/>
<circle cx="754.45" cy="1512.70" r="1.95"/>
<circle cx="745.04" cy="1512.70" r="1.95"/>
<circle cx="735.64" cy="1512.70" r="1.95"/>
<circle cx="726.24" cy="1512.70" r="1.95"/>
<circle cx="716.83" cy="1512.70" r="1.95"/>
<circle cx="707.42" cy="1512.70" r="1.95"/>
<circle cx="698.02" cy="1512.70" r="1.95"/>
<circle cx="688.62" cy="1512.70" r="1.95"/>
<circle cx="679.21" cy="1512.70" r="1.95"/>
<circle cx="669.81" cy="1512.70" r="1.95"/>
<circle cx="660.40" cy="1512.70" r="1.95"/>
<circle cx="651.00" cy="1512.70" r="1.95"/>
<circle cx="641.59" cy="1512.70" r="1.95"/>
<circle cx="632.18" cy="1512.70" r="1.95"/>
<circle cx="622.78" cy="1512.70" r="1.95"/>
<circle cx="613.38" cy="1512.70" r="1.95"/>
<circle cx="603.97" cy="1512.70" r="1.95"/>
<circle cx="594.57" cy="1512.70" r="1.95"/>
<circle cx="585.16" cy="1512.70" r="1.95"/>
<circle cx="575.75" cy="1512.70" r="1.95"/>
<circle cx="566.35" cy="1512.70" r="1.95"/>
<circle cx="556.94" cy="1512.70" r="1.95"/>
<circle cx="547.54" cy="1512.70" r="1.95"/>
<circle cx="538.13" cy="1512.70" r="1.95"/>
<circle cx="528.73" cy="1512.70" r="1.95"/>
<circle cx="519.33" cy="1512.70" r="1.95"/>
<circle cx="509.92" cy="1512.70" r="1.95"/>
<circle cx="500.52" cy="1512.70" r="1.95"/>
<circle cx="491.11" cy="1512.70" r="1.95"/>
<circle cx="481.71" cy="1512.70" r="1.95"/>
<circle cx="472.30" cy="1512.70" r="1.95"/>
<circle cx="462.90" cy="1512.70" r="1.95"/>
<circle cx="453.49" cy="1512.70" r="1.95"/>
<circle cx="444.09" cy="1512.70" r="1.95"/>
<circle cx="434.68" cy="1512.70" r="1.95"/>
<circle cx="425.28" cy="1512.70" r="1.95"/>
<circle cx="415.87" cy="1512.70" r="1.95"/>
<circle cx="406.47" cy="1512.70" r="1.95"/>
<circle cx="397.06" cy="1512.70" r="1.95"/>
<polygon points="463.60,1563.70 463.60,1586.60 461.10,1586.60 461.10,1566.54 456.61,1570.02 455.42,1568.37 461.47,1563.70"/>
<polygon points="473.40,1563.69 487.66,1563.69 487.66,1565.72 478.37,1586.60 475.33,1586.60 484.99,1565.72 473.40,1565.72"/>
</svg>
<span class="t" style="left:14.05px;top:285px;font-size:36.3px;transform:scaleX(0.9411)">VIAȚA</span>
<span class="t" style="left:121.82px;top:285px;font-size:36.3px;transform:scaleX(0.8396)">ȘI</span>
<span class="t" style="left:160.19px;top:285px;font-size:36.3px;transform:scaleX(0.9370)">OPERA</span>
<span class="t" style="left:287.61px;top:285px;font-size:36.3px;transform:scaleX(1.0025)">MEA</span>
<span class="t" style="left:76.58px;top:345px;font-size:36.3px;transform:scaleX(1.0218)">I.</span>
<span class="t" style="left:102.61px;top:346px;font-size:35.0px;transform:scaleX(1.0109)">Teama terestră</span>
<span class="t" style="left:872.00px;top:345px;font-size:35.8px;transform:scaleX(0.9544)">3</span>
<span class="t" style="left:68.31px;top:406px;font-size:36.3px;transform:scaleX(0.9537)">II.</span>
<span class="t" style="left:105.46px;top:407px;font-size:35.0px;transform:scaleX(1.0577)">Lumina interioară</span>
<span class="t" style="left:872.00px;top:406px;font-size:35.8px;transform:scaleX(0.9544)">3</span>
<span class="t" style="left:893.80px;top:406px;font-size:35.8px;transform:scaleX(0.9073)">5</span>
<span class="t" style="left:57.75px;top:467px;font-size:36.3px;transform:scaleX(0.9710)">III.</span>
<span class="t" style="left:105.82px;top:468px;font-size:35.0px;transform:scaleX(1.0735)">Misterul cancerului</span>
<span class="t" style="left:872.00px;top:467px;font-size:35.8px;transform:scaleX(0.9544)">3</span>
<span class="t" style="left:892.70px;top:467px;font-size:35.8px;transform:scaleX(1.0159)">9</span>
<span class="t" style="left:58.02px;top:528px;font-size:36.3px;transform:scaleX(0.8908)">IV.</span>
<span class="t" style="left:106.43px;top:529px;font-size:35.0px;transform:scaleX(1.0708)">Meditația și fluxul energetic</span>
<span class="t" style="left:871.42px;top:528px;font-size:35.8px;transform:scaleX(1.0144)">4</span>
<span class="t" style="left:893.80px;top:528px;font-size:35.8px;transform:scaleX(0.9073)">5</span>
<span class="t" style="left:67.36px;top:589px;font-size:36.3px;transform:scaleX(0.8597)">V.</span>
<span class="t" style="left:104.50px;top:590px;font-size:35.0px;transform:scaleX(1.0532)">Inima bolnavă</span>
<span class="t" style="left:871.42px;top:589px;font-size:35.8px;transform:scaleX(1.0144)">4</span>
<span class="t" style="left:892.70px;top:589px;font-size:35.8px;transform:scaleX(1.0159)">9</span>
<span class="t" style="left:49.65px;top:650px;font-size:36.3px;transform:scaleX(0.9582)">VI.</span>
<span class="t" style="left:98.48px;top:651px;font-size:35.0px;transform:scaleX(1.0511)">Medicina celestă</span>
<span class="t" style="left:872.40px;top:650px;font-size:35.8px;transform:scaleX(0.9073)">5</span>
<span class="t" style="left:40.15px;top:711px;font-size:36.3px;transform:scaleX(0.9550)">VII.</span>
<span class="t" style="left:98.98px;top:712px;font-size:35.0px;transform:scaleX(1.0162)">Reincarnarea</span>
<span class="t" style="left:31.35px;top:772px;font-size:36.3px;transform:scaleX(0.9414)">VIII.</span>
<span class="t" style="left:99.34px;top:773px;font-size:35.0px;transform:scaleX(1.0997)">Maladiile tinerilor</span>
<span class="t" style="left:893.80px;top:772px;font-size:35.8px;transform:scaleX(0.9073)">5</span>
<span class="t" style="left:49.76px;top:833px;font-size:36.3px;transform:scaleX(0.9677)">IX.</span>
<span class="t" style="left:100.41px;top:834px;font-size:35.0px;transform:scaleX(1.0745)">Jocuri spirituale</span>
<span class="t" style="left:871.68px;top:833px;font-size:35.8px;transform:scaleX(0.9763)">8</span>
<span class="t" style="left:893.80px;top:833px;font-size:35.8px;transform:scaleX(0.9073)">5</span>
<span class="t" style="left:59.22px;top:894px;font-size:36.3px;transform:scaleX(0.9613)">X.</span>
<span class="t" style="left:99.49px;top:895px;font-size:35.0px;transform:scaleX(1.0471)">Libertatea</span>
<span class="t" style="left:871.30px;top:894px;font-size:35.8px;transform:scaleX(1.0159)">9</span>
<span class="t" style="left:48.39px;top:954px;font-size:36.3px;transform:scaleX(0.9888)">XI.</span>
<span class="t" style="left:99.42px;top:955px;font-size:35.0px;transform:scaleX(1.0584)">Comunicarea cu Lumea de Dincolo</span>
<span class="t" style="left:871.30px;top:954px;font-size:35.8px;transform:scaleX(1.0159)">9</span>
<span class="t" style="left:39.71px;top:1015px;font-size:36.3px;transform:scaleX(0.9635)">XII.</span>
<span class="t" style="left:99.09px;top:1016px;font-size:35.0px;transform:scaleX(1.0495)">Foametea în lume</span>
<span class="t" style="left:874.93px;top:1015px;font-size:35.8px;transform:scaleX(0.9817)">0</span>
<span class="t" style="left:30.93px;top:1076px;font-size:36.3px;transform:scaleX(0.9483)">XIII.</span>
<span class="t" style="left:100.23px;top:1077px;font-size:35.0px;transform:scaleX(1.0525)">Cataclismele sau mutațiile</span>
<span class="t" style="left:874.93px;top:1076px;font-size:35.8px;transform:scaleX(0.9817)">0</span>
<span class="t" style="left:896.00px;top:1076px;font-size:35.8px;transform:scaleX(1.0159)">9</span>
<span class="t" style="left:39.77px;top:1137px;font-size:36.3px;transform:scaleX(0.8997)">XIV.</span>
<span class="t" style="left:109.52px;top:1138px;font-size:35.0px;transform:scaleX(1.1034)">Arborii vindecători</span>
<span class="t" style="left:896.00px;top:1137px;font-size:35.8px;transform:scaleX(1.0159)">9</span>
<span class="t" style="left:39.75px;top:1198px;font-size:36.3px;transform:scaleX(0.9195)">XV.</span>
<span class="t" style="left:100.91px;top:1199px;font-size:35.0px;transform:scaleX(1.0766)">Balenele și delfinii</span>
<span class="t" style="left:874.93px;top:1198px;font-size:35.8px;transform:scaleX(0.9810)">2</span>
<span class="t" style="left:30.93px;top:1259px;font-size:36.3px;transform:scaleX(0.9432)">XVI.</span>
<span class="t" style="left:104.87px;top:1260px;font-size:35.0px;transform:scaleX(1.0569)">Muzica vindecătoare</span>
<span class="t" style="left:875.30px;top:1259px;font-size:35.8px;transform:scaleX(0.9544)">3</span>
<span class="t" style="left:22.13px;top:1320px;font-size:36.3px;transform:scaleX(0.9484)">XVII.</span>
<span class="t" style="left:103.76px;top:1321px;font-size:35.0px;transform:scaleX(1.0709)">Timpul și bumerangul de lumină</span>
<span class="t" style="left:875.30px;top:1320px;font-size:35.8px;transform:scaleX(0.9544)">3</span>
<span class="t" style="left:897.10px;top:1320px;font-size:35.8px;transform:scaleX(0.9073)">5</span>
<span class="t" style="left:13.84px;top:1381px;font-size:36.3px;transform:scaleX(0.9381)">XVIII.</span>
<span class="t" style="left:103.73px;top:1382px;font-size:35.0px;transform:scaleX(1.0221)">A vrea sau a cere</span>
<span class="t" style="left:875.30px;top:1381px;font-size:35.8px;transform:scaleX(0.9544)">3</span>
<span class="t" style="left:896.00px;top:1381px;font-size:35.8px;transform:scaleX(1.0159)">9</span>
<span class="t" style="left:30.92px;top:1442px;font-size:36.3px;transform:scaleX(0.9602)">XIX.</span>
<span class="t" style="left:105.41px;top:1443px;font-size:35.0px;transform:scaleX(1.0746)">Libertatea lumii finanțelor</span>
<span class="t" style="left:874.72px;top:1442px;font-size:35.8px;transform:scaleX(1.0144)">4</span>
<span class="t" style="left:896.70px;top:1442px;font-size:35.8px;transform:scaleX(0.9544)">3</span>
<span class="t" style="left:39.70px;top:1502px;font-size:36.3px;transform:scaleX(0.9765)">XX.</span>
<span class="t" style="left:105.48px;top:1503px;font-size:35.0px;transform:scaleX(1.0190)">Sclavia financiară</span>
<span class="t" style="left:874.72px;top:1502px;font-size:35.8px;transform:scaleX(1.0144)">4</span>
<span class="t" style="left:896.00px;top:1502px;font-size:35.8px;transform:scaleX(1.0159)">9</span>
<span class="t b" style="left:382.33px;top:178px;font-size:47.0px;transform:scaleX(0.9698)">C</span>
<span class="t b" style="left:413.60px;top:178px;font-size:47.0px;transform:scaleX(0.9557)">U</span>
<span class="t b" style="left:447.55px;top:178px;font-size:47.0px;transform:scaleX(0.8422)">P</span>
<span class="t b" style="left:475.40px;top:178px;font-size:47.0px;transform:scaleX(0.8279)">R</span>
<span class="t b" style="left:503.73px;top:178px;font-size:47.0px;transform:scaleX(0.9453)">I</span>
<span class="t b" style="left:516.57px;top:178px;font-size:47.0px;transform:scaleX(1.0604)">N</span>
<span class="t b" style="left:553.30px;top:178px;font-size:47.0px;transform:scaleX(0.8132)">S</span>
<span class="t" style="left:490.53px;top:1577px;font-size:33.3px;transform:scaleX(0.9501)">5</span>
</body></html>
